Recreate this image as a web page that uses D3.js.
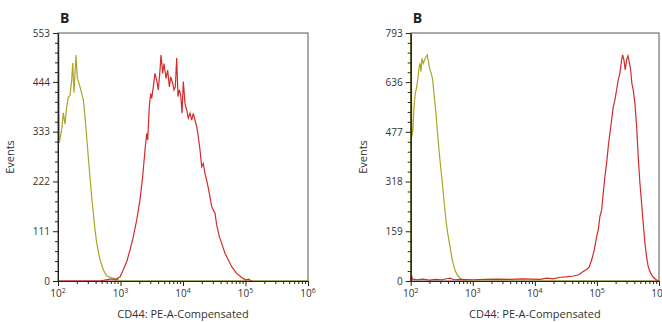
<!DOCTYPE html>
<html>
<head>
<meta charset="utf-8">
<script src="https://cdn.jsdelivr.net/npm/d3@7"></script>
<style>
  body { margin: 0; background: #fff; }
  svg { display: block; font-family: "Open Sans", "Noto Sans", sans-serif; }
</style>
</head>
<body>
<svg id="chart" width="662" height="322"></svg>
<script>
// x values are log10 of the PE-A channel, y values are event counts
const xTickExps = [2, 3, 4, 5, 6];

const leftYTicks = [0, 111, 222, 333, 444, 553];
const leftIsoX = [2.0, 2.0, 2.021, 2.059, 2.085, 2.112, 2.139, 2.165, 2.192, 2.219, 2.235, 2.256, 2.288, 2.309,
  2.352, 2.405, 2.432, 2.459, 2.485, 2.512, 2.539, 2.565, 2.592, 2.619, 2.672, 2.725, 2.779, 2.859, 2.939, 2.992, 6.0];
const leftIsoY = [0, 900, 308, 337, 375, 350, 388, 410, 414, 448, 486, 420, 504, 453,
  433, 404, 366, 321, 276, 232, 187, 152, 114, 85, 47, 25, 11, 7, 5, 0, 0];

const leftCd44X = [2.0, 2.672, 2.752, 2.832, 2.885, 2.928, 2.96, 2.992, 3.045, 3.099, 3.152, 3.205, 3.259, 3.312,
  3.355, 3.392, 3.419, 3.435, 3.461, 3.483, 3.499, 3.525, 3.552, 3.579, 3.605, 3.632, 3.648, 3.675, 3.696,
  3.728, 3.755, 3.781, 3.803, 3.835, 3.856, 3.877, 3.899, 3.92, 3.941, 3.963, 3.984, 4.005, 4.032, 4.059,
  4.085, 4.112, 4.139, 4.165, 4.192, 4.219, 4.245, 4.272, 4.299, 4.325, 4.352, 4.389, 4.421, 4.459, 4.485,
  4.512, 4.539, 4.581, 4.619, 4.672, 4.725, 4.779, 4.859, 4.939, 5.003, 5.045, 5.099];
const leftCd44Y = [0, 0, 2, 4, 4, 2, 7, 9, 25, 43, 69, 99, 136, 181,
  233, 292, 329, 314, 389, 418, 407, 433, 463, 448, 426, 470, 504, 463, 485,
  452, 470, 433, 455, 441, 426, 433, 497, 411, 426, 415, 374, 445, 396, 381,
  363, 374, 359, 374, 359, 344, 322, 292, 255, 262, 240, 218, 196, 166, 158,
  151, 125, 99, 84, 62, 47, 32, 17, 8, 2, 4, 0];

const rightYTicks = [0, 159, 318, 477, 636, 793];
const rightIsoX = [2.0, 2.0, 2.016, 2.037, 2.053, 2.074, 2.097, 2.113, 2.129, 2.15, 2.166, 2.182, 2.203, 2.225,
  2.246, 2.267, 2.29, 2.311, 2.332, 2.354, 2.375, 2.407, 2.428, 2.461, 2.488, 2.515, 2.541, 2.568, 2.596,
  2.633, 2.67, 2.713, 2.75, 2.794, 2.847, 2.902, 6.0];
const rightIsoY = [0, 1300, 461, 483, 557, 600, 621, 643, 675, 696, 669, 712, 696, 707,
  717, 723, 696, 675, 664, 643, 600, 536, 483, 408, 355, 302, 248, 195, 153,
  110, 67, 35, 19, 9, 3, 0, 0];

const rightCd44X = [2.0, 2.008, 2.03, 2.1, 2.2, 2.3, 2.4, 2.5, 2.6, 2.633, 2.7, 2.8, 3.0, 3.2, 3.4, 3.6, 3.8,
  4.082, 4.19, 4.296, 4.404, 4.512, 4.618, 4.699, 4.779, 4.834, 4.876, 4.915, 4.957, 4.995, 5.021, 5.048,
  5.076, 5.101, 5.129, 5.156, 5.182, 5.209, 5.237, 5.263, 5.29, 5.317, 5.343, 5.37, 5.398, 5.414, 5.435,
  5.456, 5.479, 5.499, 5.52, 5.543, 5.563, 5.585, 5.612, 5.64, 5.665, 5.693, 5.72, 5.746, 5.773, 5.8,
  5.826, 5.865, 5.907, 5.961, 6.0];
const rightCd44Y = [0, 19, 6, 4, 6, 3, 5, 4, 8, 9, 4, 5, 4, 5, 6, 5, 7,
  5, 9, 7, 12, 13, 16, 19, 30, 37, 45, 67, 99, 142, 163, 206,
  227, 280, 334, 376, 429, 472, 515, 557, 579, 611, 643, 664, 707, 723, 707,
  675, 707, 720, 701, 675, 632, 611, 568, 493, 397, 312, 248, 184, 121, 78,
  46, 25, 12, 3, 0];

const isoColor = "#aaa526";
const cd44Color = "#d42a2a";

const svg = d3.select("#chart");

function drawPanel(cfg) {
  const x = d3.scaleLog().domain([1e2, 1e6]).range([cfg.left, cfg.right]);
  const y = d3.scaleLinear().domain([0, cfg.yTicks[cfg.yTicks.length - 1]]).range([281, 33]);

  const g = svg.append("g");

  // panel letter
  g.append("text")
    .attr("x", cfg.left + 2).attr("y", 23)
    .attr("font-size", 14).attr("font-weight", "bold").attr("fill", "#222")
    .text("B");

  // frame
  g.append("rect")
    .attr("x", cfg.left).attr("y", 33)
    .attr("width", cfg.right - cfg.left).attr("height", 248)
    .attr("fill", "none").attr("stroke", "#555").attr("stroke-width", 1);

  const clipId = "clip" + cfg.id;
  g.append("clipPath").attr("id", clipId)
    .append("rect")
    .attr("x", cfg.left - 1).attr("y", 33)
    .attr("width", cfg.right - cfg.left + 1).attr("height", 249);

  const line = d3.line()
    .x(d => x(Math.pow(10, d[0])))
    .y(d => y(d[1]));

  const plot = g.append("g").attr("clip-path", "url(#" + clipId + ")");
  plot.append("path")
    .datum(d3.zip(cfg.isoX, cfg.isoY))
    .attr("d", line)
    .attr("fill", "none").attr("stroke", isoColor).attr("stroke-width", 1.2);
  plot.append("path")
    .datum(d3.zip(cfg.cdX, cfg.cdY))
    .attr("d", line)
    .attr("fill", "none").attr("stroke", cd44Color).attr("stroke-width", 1.2);

  // y axis
  const yMinor = [];
  for (let i = 0; i < cfg.yTicks.length - 1; i++) {
    const a = cfg.yTicks[i], b = cfg.yTicks[i + 1];
    for (let k = 1; k < 5; k++) yMinor.push(a + (b - a) * k / 5);
  }
  g.append("g")
    .attr("transform", "translate(" + cfg.left + ",0)")
    .call(d3.axisLeft(y).tickValues(yMinor).tickSize(3).tickFormat("").tickSizeOuter(0));
  const yAxis = g.append("g")
    .attr("transform", "translate(" + cfg.left + ",0)")
    .call(d3.axisLeft(y).tickValues(cfg.yTicks).tickSize(5).tickSizeOuter(0).tickPadding(3));
  yAxis.selectAll("text").attr("font-size", 10).attr("fill", "#333")
    .attr("font-family", "\"Open Sans\", sans-serif");

  // x axis
  const xMinor = [];
  xTickExps.slice(0, -1).forEach(e => {
    for (let m = 2; m <= 9; m++) xMinor.push(m * Math.pow(10, e));
  });
  g.append("g")
    .attr("transform", "translate(0,281)")
    .call(d3.axisBottom(x).tickValues(xMinor).tickSize(3).tickFormat("").tickSizeOuter(0));
  g.append("g")
    .attr("transform", "translate(0,281)")
    .call(d3.axisBottom(x).tickValues(xTickExps.map(e => Math.pow(10, e)))
      .tickSize(5).tickSizeOuter(0).tickFormat(""));

  g.selectAll(".domain").attr("stroke", "#222");
  g.selectAll(".tick line").attr("stroke", "#222");

  xTickExps.forEach(e => {
    const t = g.append("text")
      .attr("x", x(Math.pow(10, e)))
      .attr("y", 297)
      .attr("text-anchor", "middle")
      .attr("font-size", 10).attr("fill", "#333");
    t.append("tspan").text("10");
    t.append("tspan").attr("dy", -4).attr("font-size", 7).text(String(e));
  });

  g.append("text")
    .attr("x", (cfg.left + cfg.right) / 2).attr("y", 318)
    .attr("text-anchor", "middle")
    .attr("font-size", 11).attr("fill", "#333")
    .text("CD44: PE-A-Compensated");

  g.append("text")
    .attr("transform", "translate(" + (cfg.left - 44) + ",157) rotate(-90)")
    .attr("text-anchor", "middle")
    .attr("font-size", 11).attr("fill", "#333")
    .text("Events");
}

drawPanel({ id: "L", left: 58, right: 308, yTicks: leftYTicks,
  isoX: leftIsoX, isoY: leftIsoY, cdX: leftCd44X, cdY: leftCd44Y });
drawPanel({ id: "R", left: 410.7, right: 659, yTicks: rightYTicks,
  isoX: rightIsoX, isoY: rightIsoY, cdX: rightCd44X, cdY: rightCd44Y });
</script>
</body>
</html>
